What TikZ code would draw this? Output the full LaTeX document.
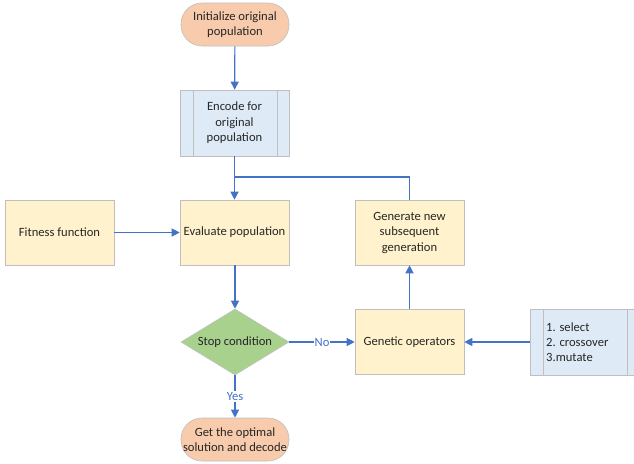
\documentclass[tikz,border=0pt]{standalone}
\usepackage{fontspec}
\setmainfont{Carlito}
\usetikzlibrary{arrows.meta,shapes.geometric,positioning}
\definecolor{peach}{HTML}{F8CBAD}
\definecolor{lblue}{HTML}{DEEBF7}
\definecolor{lyel}{HTML}{FFF2CC}
\definecolor{lgreen}{HTML}{A9D18E}
\definecolor{bord}{HTML}{BFBFBF}
\definecolor{conn}{HTML}{4472C4}
\definecolor{txt}{HTML}{262626}
\tikzset{
  base/.style={draw=bord, line width=0.6pt, text=txt, font=\fontsize{12.6}{15.5}\selectfont, align=center, inner sep=0pt},
  term/.style={base, fill=peach, rounded corners=21pt, minimum width=108pt, minimum height=43pt},
  proc/.style={base, fill=lyel, minimum width=109pt, minimum height=65pt},
  pre/.style={base, fill=lblue, minimum width=109pt, minimum height=66pt},
  dec/.style={base, fill=lgreen, diamond, aspect=1.64, minimum width=108pt, minimum height=66pt},
  conn/.style={draw=conn, line width=1.2pt, -{Triangle[width=8pt,length=8pt]}},
  lab/.style={text=conn, font=\fontsize{12.6}{14}\selectfont, fill=white, inner sep=1pt}
}
\begin{document}
\begin{tikzpicture}[x=1pt,y=-1pt]
\useasboundingbox (0,0) rectangle (634,463);
\node[term] (init) at (235,24.5) {Initialize original\\population};
\node[pre] (enc) at (234.5,123) {Encode for\\original\\population};
\draw[bord, line width=0.6pt] (193,90) -- (193,156) (277,90) -- (277,156);
\node[proc] (fit) at (59.5,232.5) {Fitness function};
\node[proc] (eval) at (234.5,232.5) {Evaluate population};
\node[proc] (gen) at (409.5,232.5) {Generate new\\subsequent\\generation};
\node[dec] (stop) at (235,342) {Stop condition};
\node[proc] (gop) at (409.5,342) {Genetic operators};
\node[pre, minimum width=104pt] (ops) at (582,342) {};
\draw[bord, line width=0.6pt] (543,309) -- (543,375) (627,309) -- (627,375);
\node[text=txt, font=\fontsize{12.6}{15}\selectfont, align=left, anchor=west, inner sep=0pt] (opstxt) at (546,342) {1. select\\2. crossover\\3.mutate};
\node[term] (out) at (235,439.5) {Get the optimal\\solution and decode};
\coordinate (j) at (235,177);
\draw[conn] (init) -- (enc);
\draw[conn] (enc.south -| eval.north) -- (eval.north);
\draw[conn, -] (gen.north) |- (j);
\draw[conn] (fit) -- (eval);
\draw[conn] (eval.south -| stop.north) -- (stop.north);
\draw[conn] (stop.east) -- node[lab] {No} (gop.west);
\draw[conn] (stop.south) -- node[lab, pos=0.5] {Yes} (out.north);
\draw[conn] (gop) -- (gen);
\draw[conn] (ops) -- (gop);
\end{tikzpicture}
\end{document}
